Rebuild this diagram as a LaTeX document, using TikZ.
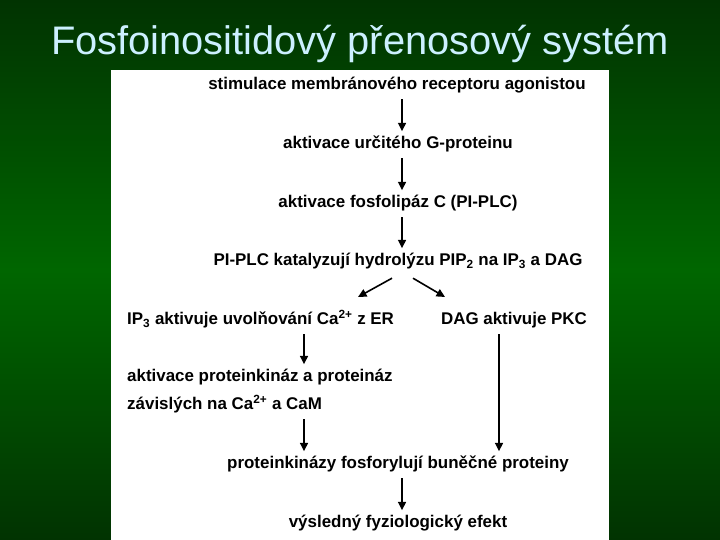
\documentclass[tikz,border=0pt]{standalone}
\usepackage{fontspec}
\setmainfont{Liberation Sans}
\definecolor{titleblue}{HTML}{CCF0FF}
\definecolor{darkgreen}{HTML}{013301}
\definecolor{midgreen}{HTML}{006600}
\usetikzlibrary{arrows.meta, positioning, calc}
\tikzset{
	stepnode/.style={
			font=\bfseries\fontsize{17}{20}\selectfont,
			inner sep=0pt,
			text height=12bp,
			text depth=3.5bp,
			anchor=base
		},
	leftnode/.style={
			stepnode,
			anchor=base west
		},
	titlenode/.style={
			font=\fontsize{40}{46}\selectfont,
			text=titleblue,
			inner sep=0pt,
			anchor=base
		},
	arrowline/.style={
			line width=1.6bp,
			-{Triangle[length=8.5bp,width=8bp]},
			shorten <=6bp,
			shorten >=5bp
		}
}

\begin{document}
\begin{tikzpicture}[x=1bp, y=-1bp]
\useasboundingbox (0,0) rectangle (720,540);
\shade[top color=darkgreen, bottom color=darkgreen, middle color=midgreen] (0,0) rectangle (720,540);
\fill[white] (111,70) rectangle (609,540);

\node[titlenode] (title) at (360,55) {Fosfoinositidový přenosový systém};

\node[stepnode] (stim) at (397,89.5) {stimulace membránového receptoru agonistou};
\node[stepnode] (gprot) at (398,148.5) {aktivace určitého G-proteinu};
\node[stepnode] (plc) at (398,207.5) {aktivace fosfolipáz C (PI-PLC)};
\node[stepnode] (hydro) at (398,265.5) {PI-PLC katalyzují hydrolýzu PIP\textsubscript{2} na IP\textsubscript{3} a DAG};
\node[leftnode] (ip3) at (127,324.5) {IP\textsubscript{3} aktivuje uvolňování Ca\textsuperscript{2+} z ER};
\node[stepnode] (dag) at (514,324.5) {DAG aktivuje PKC};
\node[leftnode] (kin1) at (127,381.5) {aktivace proteinkináz a proteináz};
\node[leftnode] (kin2) at (127,409.5) {závislých na Ca\textsuperscript{2+} a CaM};
\node[stepnode] (fosfo) at (398,468.5) {proteinkinázy fosforylují buněčné proteiny};
\node[stepnode] (efekt) at (398,527.5) {výsledný fyziologický efekt};

\coordinate (midx) at (402,0);
\coordinate (leftx) at (304,0);
\coordinate (rightx) at (499,0);
\coordinate (ipend) at (358,297);
\coordinate (dagend) at (445,297);

\draw[arrowline] (stim.south -| midx) -- (gprot.north -| midx);
\draw[arrowline] (gprot.south -| midx) -- (plc.north -| midx);
\draw[arrowline] (plc.south -| midx) -- (hydro.north -| midx);

\draw[arrowline, shorten <=0bp, shorten >=0bp] ([shift={(-6,9)}]hydro.south) -- (ipend);
\draw[arrowline, shorten <=0bp, shorten >=0bp] ([shift={(15,9)}]hydro.south) -- (dagend);

\draw[arrowline] (ip3.south -| leftx) -- (kin1.north -| leftx);
\draw[arrowline] (kin2.south -| leftx) -- (fosfo.north -| leftx);
\draw[arrowline] (dag.south -| rightx) -- (fosfo.north -| rightx);

\draw[arrowline] (fosfo.south -| midx) -- (efekt.north -| midx);

\end{tikzpicture}
\end{document}
